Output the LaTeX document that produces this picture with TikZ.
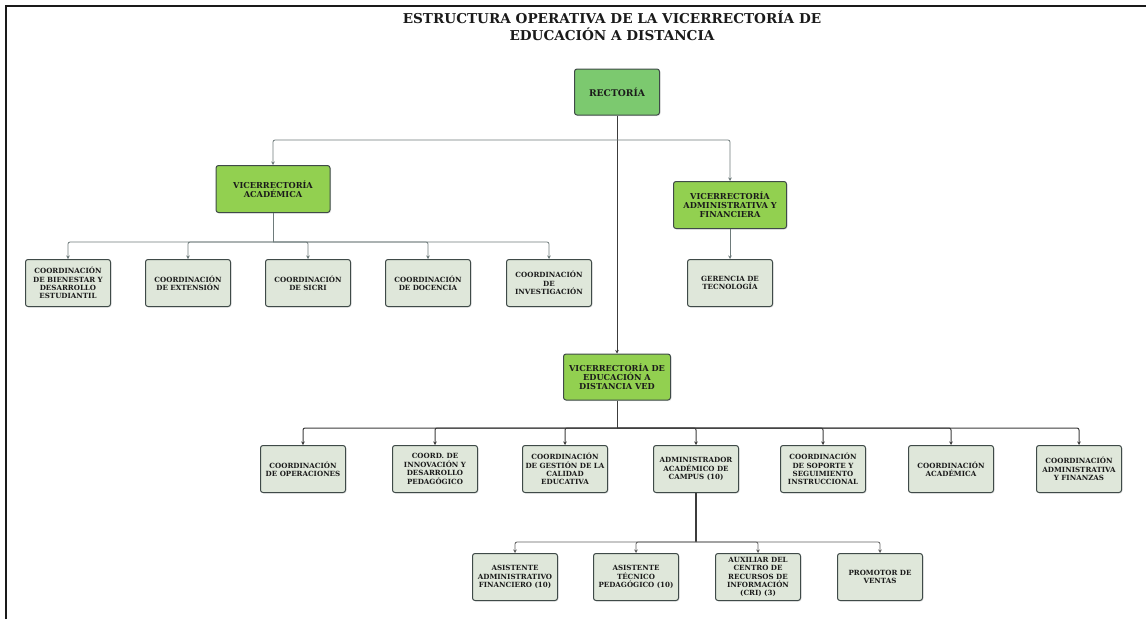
\documentclass[tikz,border=0pt]{standalone}
\usepackage{fontspec}
\setmainfont{DejaVu Serif}
\usepackage{tikz}
\usetikzlibrary{arrows.meta, shadows}
\usepackage{xcolor}
\definecolor{oGreen}{HTML}{7CC96F}
\definecolor{oLime}{HTML}{92D050}
\definecolor{oSage}{HTML}{DFE7DA}
\definecolor{oEdge}{HTML}{3F4A48}
\definecolor{oLink}{HTML}{6E7B7B}
\definecolor{oInk}{HTML}{1A1A1A}

\tikzset{
  unit/.style={draw=oEdge, line width=1pt, rounded corners=2.5pt, align=center,
               text=oInk, inner sep=1pt, minimum height=47pt,
               font=\bfseries\fontsize{7.1}{8.4}\selectfont,
               drop shadow={opacity=0.18, shadow xshift=1pt, shadow yshift=-1pt}},
  head/.style={unit, fill=oLime, font=\bfseries\fontsize{8.2}{9.2}\selectfont},
  coord/.style={unit, fill=oSage, minimum width=85pt},
  link/.style={draw=oLink, line width=0.8pt, rounded corners=2pt,
               -{Stealth[length=3.5pt, width=3.5pt]}},
  trunk/.style={link, draw=oInk!85, line width=1pt},
}

\begin{document}
\begin{tikzpicture}[x=1pt, y=-1pt]
  \useasboundingbox (0,0) rectangle (1148,619);
  % page frame
  \draw[oInk, line width=2pt] (6,619) -- (6,6) -- (1146,6);
  \node[font=\bfseries\fontsize{13.6}{17}\selectfont, align=center, text=oInk] (title) at (612,26)
    {ESTRUCTURA OPERATIVA DE LA VICERRECTORÍA DE\\EDUCACIÓN A DISTANCIA};

  % top levels
  \node[head, fill=oGreen, minimum width=85pt, minimum height=46pt,
        font=\bfseries\fontsize{9.2}{10}\selectfont] (rec) at (617,92) {RECTORÍA};
  \node[head, minimum width=114pt] (va) at (273,189) {VICERRECTORÍA\\ACADÉMICA};
  \node[head, minimum width=113pt] (vaf) at (730,205) {VICERRECTORÍA\\ADMINISTRATIVA Y\\FINANCIERA};
  \node[head, minimum width=107pt, minimum height=46pt] (ved) at (617,377)
    {VICERRECTORÍA DE\\EDUCACIÓN A\\DISTANCIA VED};

  % academic coordinations
  \node[coord] (bien)  at (68,283)  {COORDINACIÓN\\DE BIENESTAR Y\\DESARROLLO\\ESTUDIANTIL};
  \node[coord] (ext)   at (188,283) {COORDINACIÓN\\DE EXTENSIÓN};
  \node[coord] (sicri) at (308,283) {COORDINACIÓN\\DE SICRI};
  \node[coord] (doc)   at (428,283) {COORDINACIÓN\\DE DOCENCIA};
  \node[coord] (inv)   at (549,283) {COORDINACIÓN\\DE\\INVESTIGACIÓN};
  \node[coord] (ger)   at (730,283) {GERENCIA DE\\TECNOLOGÍA};

  % VED coordinations
  \node[coord] (ope)  at (303,469)  {COORDINACIÓN\\DE OPERACIONES};
  \node[coord] (inn)  at (435,469)  {COORD. DE\\INNOVACIÓN Y\\DESARROLLO\\PEDAGÓGICO};
  \node[coord] (cal)  at (565,469)  {COORDINACIÓN\\DE GESTIÓN DE LA\\CALIDAD\\EDUCATIVA};
  \node[coord] (adm)  at (696,469)  {ADMINISTRADOR\\ACADÉMICO DE\\CAMPUS (10)};
  \node[coord] (sop)  at (823,469)  {COORDINACIÓN\\DE SOPORTE Y\\SEGUIMIENTO\\INSTRUCCIONAL};
  \node[coord] (aca)  at (951,469)  {COORDINACIÓN\\ACADÉMICA};
  \node[coord] (fin)  at (1079,469) {COORDINACIÓN\\ADMINISTRATIVA\\Y FINANZAS};

  % campus staff
  \node[coord] (asa) at (515,577) {ASISTENTE\\ADMINISTRATIVO\\FINANCIERO (10)};
  \node[coord] (ast) at (636,577) {ASISTENTE\\TÉCNICO\\PEDAGÓGICO (10)};
  \node[coord] (aux) at (758,577) {AUXILIAR DEL\\CENTRO DE\\RECURSOS DE\\INFORMACIÓN\\(CRI) (3)};
  \node[coord] (pro) at (880,577) {PROMOTOR DE\\VENTAS};

  % connectors
  \coordinate (busR) at (617,140);
  \coordinate (busA) at (273,242);
  \coordinate (busV) at (617,428);
  \coordinate (busC) at (696,542);
  \draw[trunk] (rec.south) -- (ved.north);
  \draw[link] (busR) -| (va.north);
  \draw[link] (busR) -| (vaf.north);
  \draw[link, -] (va.south) -- (busA);
  \foreach \n in {bien,ext,sicri,doc,inv}
    \draw[link] (busA) -| (\n.north);
  \draw[link] (vaf.south) -- (ger.north);
  \draw[trunk, -] (ved.south) -- (busV);
  \foreach \n in {ope,inn,cal,adm,sop,aca,fin}
    \draw[trunk] (busV) -| (\n.north);
  \draw[trunk, -, line width=1.6pt] (adm.south) -- (busC);
  \foreach \n in {asa,ast,aux,pro}
    \draw[link, draw=oInk!70] (busC) -| (\n.north);
\end{tikzpicture}
\end{document}
